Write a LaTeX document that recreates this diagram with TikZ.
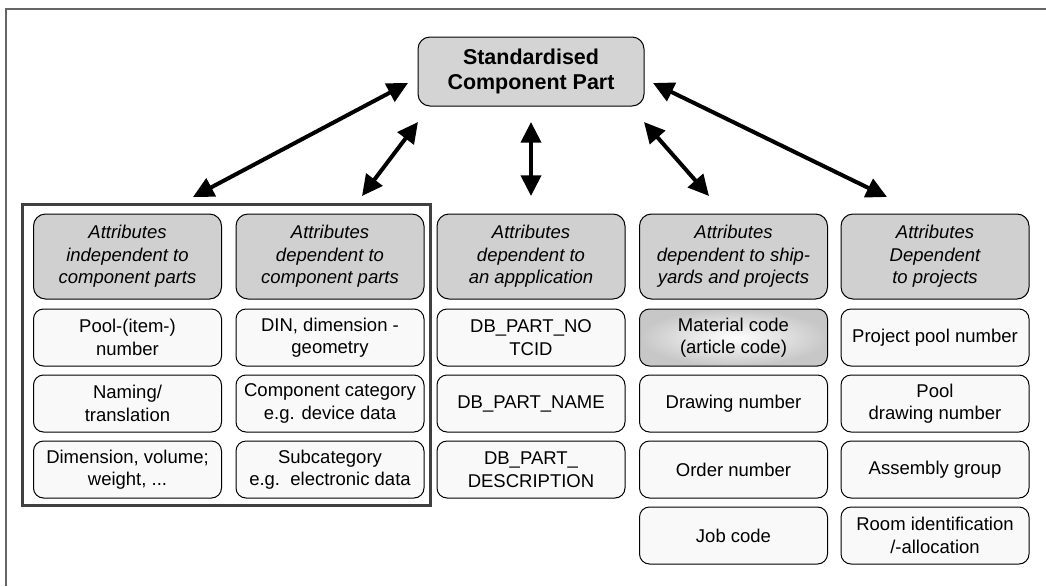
\documentclass[tikz,border=0pt]{standalone}
\usepackage{fontspec}
\setmainfont{Liberation Sans}
\usetikzlibrary{arrows.meta}
\definecolor{headgray}{HTML}{D0D0D0}
\definecolor{topgray}{HTML}{D4D4D4}
\definecolor{valfill}{HTML}{F9F9F9}
\definecolor{framegray}{HTML}{404040}
\definecolor{edgegray}{HTML}{666666}
\begin{document}
\begin{tikzpicture}[x=0.75pt,y=-0.75pt,
  box/.style={draw=black, line width=0.75pt, align=center, inner sep=0pt,
    minimum width=141pt, font=\fontsize{13.875}{16.9}\selectfont},
  headbox/.style={box, fill=headgray, rounded corners=9pt, minimum height=63.75pt,
    font=\fontsize{13.875}{16.9}\selectfont\itshape},
  valbox/.style={box, fill=valfill, rounded corners=7.5pt, minimum height=42.75pt},
  shadebox/.style={valbox, shade, inner color=white, outer color=black!22},
  link/.style={line width=3pt,
    arrows={Triangle[length=15.5pt,width=15pt]-Triangle[length=15.5pt,width=15pt]}}
]
\useasboundingbox (0,0) rectangle (1046,586);

% page edge lines
\draw[edgegray, line width=1.5pt] (6,586) -- (6,8.5) -- (1046,8.5);

% central node
\node[draw=black, line width=0.75pt, fill=topgray, rounded corners=9pt, align=center,
  inner sep=0pt, minimum width=169.5pt, minimum height=51.75pt,
  font=\fontsize{16.1}{18.75}\selectfont\bfseries] (top) at (531,71.5)
  {Standardised\\Component Part};

% column headers
\node[headbox] (h1) at (127.5,256.5) {Attributes\\independent to\\component parts};
\node[headbox] (h2) at (330,256.5) {Attributes\\dependent to\\component parts};
\node[headbox] (h3) at (531,256.5) {Attributes\\dependent to\\an appplication};
\node[headbox] (h4) at (733.5,256.5) {Attributes\\dependent to ship-\\yards and projects};
\node[headbox] (h5) at (935,256.5) {Attributes\\Dependent\\to projects};

% column 1
\node[valbox] (v11) at (127.5,337.5) {Pool-(item-)\\number};
\node[valbox] (v12) at (127.5,403.5) {Naming/\\translation};
\node[valbox] (v13) at (127.5,469.5) {Dimension, volume;\\weight, ...};
% column 2
\node[valbox] (v21) at (330,337.5) {DIN, dimension -\\geometry};
\node[valbox] (v22) at (330,403.5) {Component category\\e.g. device data};
\node[valbox] (v23) at (330,469.5) {Subcategory\\e.g.\ \ electronic data};
% column 3
\node[valbox] (v31) at (531,337.5) {DB\_PART\_NO\\TCID};
\node[valbox] (v32) at (531,403.5) {DB\_PART\_NAME};
\node[valbox] (v33) at (531,469.5) {DB\_PART\_\\DESCRIPTION};
% column 4
\node[shadebox] (v41) at (733.5,337.5) {Material code\\(article code)};
\node[valbox] (v42) at (733.5,403.5) {Drawing number};
\node[valbox] (v43) at (733.5,469.5) {Order number};
\node[valbox] (v44) at (733.5,535.5) {Job code};
% column 5
\node[valbox] (v51) at (935,337.5) {Project pool number};
\node[valbox] (v52) at (935,403.5) {Pool\\drawing number};
\node[valbox] (v53) at (935,469.5) {Assembly group};
\node[valbox] (v54) at (935,535.5) {Room identification\\/-allocation};

% frame around the component-part attributes
\draw[framegray, line width=2.25pt] (22.5,204.5) rectangle (430.5,505.5);

% connector end points
\coordinate (a1s) at (408,83);  \coordinate (a1e) at (193,197);
\coordinate (a2s) at (418,122); \coordinate (a2e) at (362,196);
\coordinate (a3s) at (531,122); \coordinate (a3e) at (531,196);
\coordinate (a4s) at (644,122); \coordinate (a4e) at (709,196);
\coordinate (a5s) at (653,83);  \coordinate (a5e) at (887,197);

\draw[link] (a1s) -- (a1e);
\draw[link] (a2s) -- (a2e);
\draw[link] (a3s) -- (a3e);
\draw[link] (a4s) -- (a4e);
\draw[link] (a5s) -- (a5e);
\end{tikzpicture}
\end{document}
